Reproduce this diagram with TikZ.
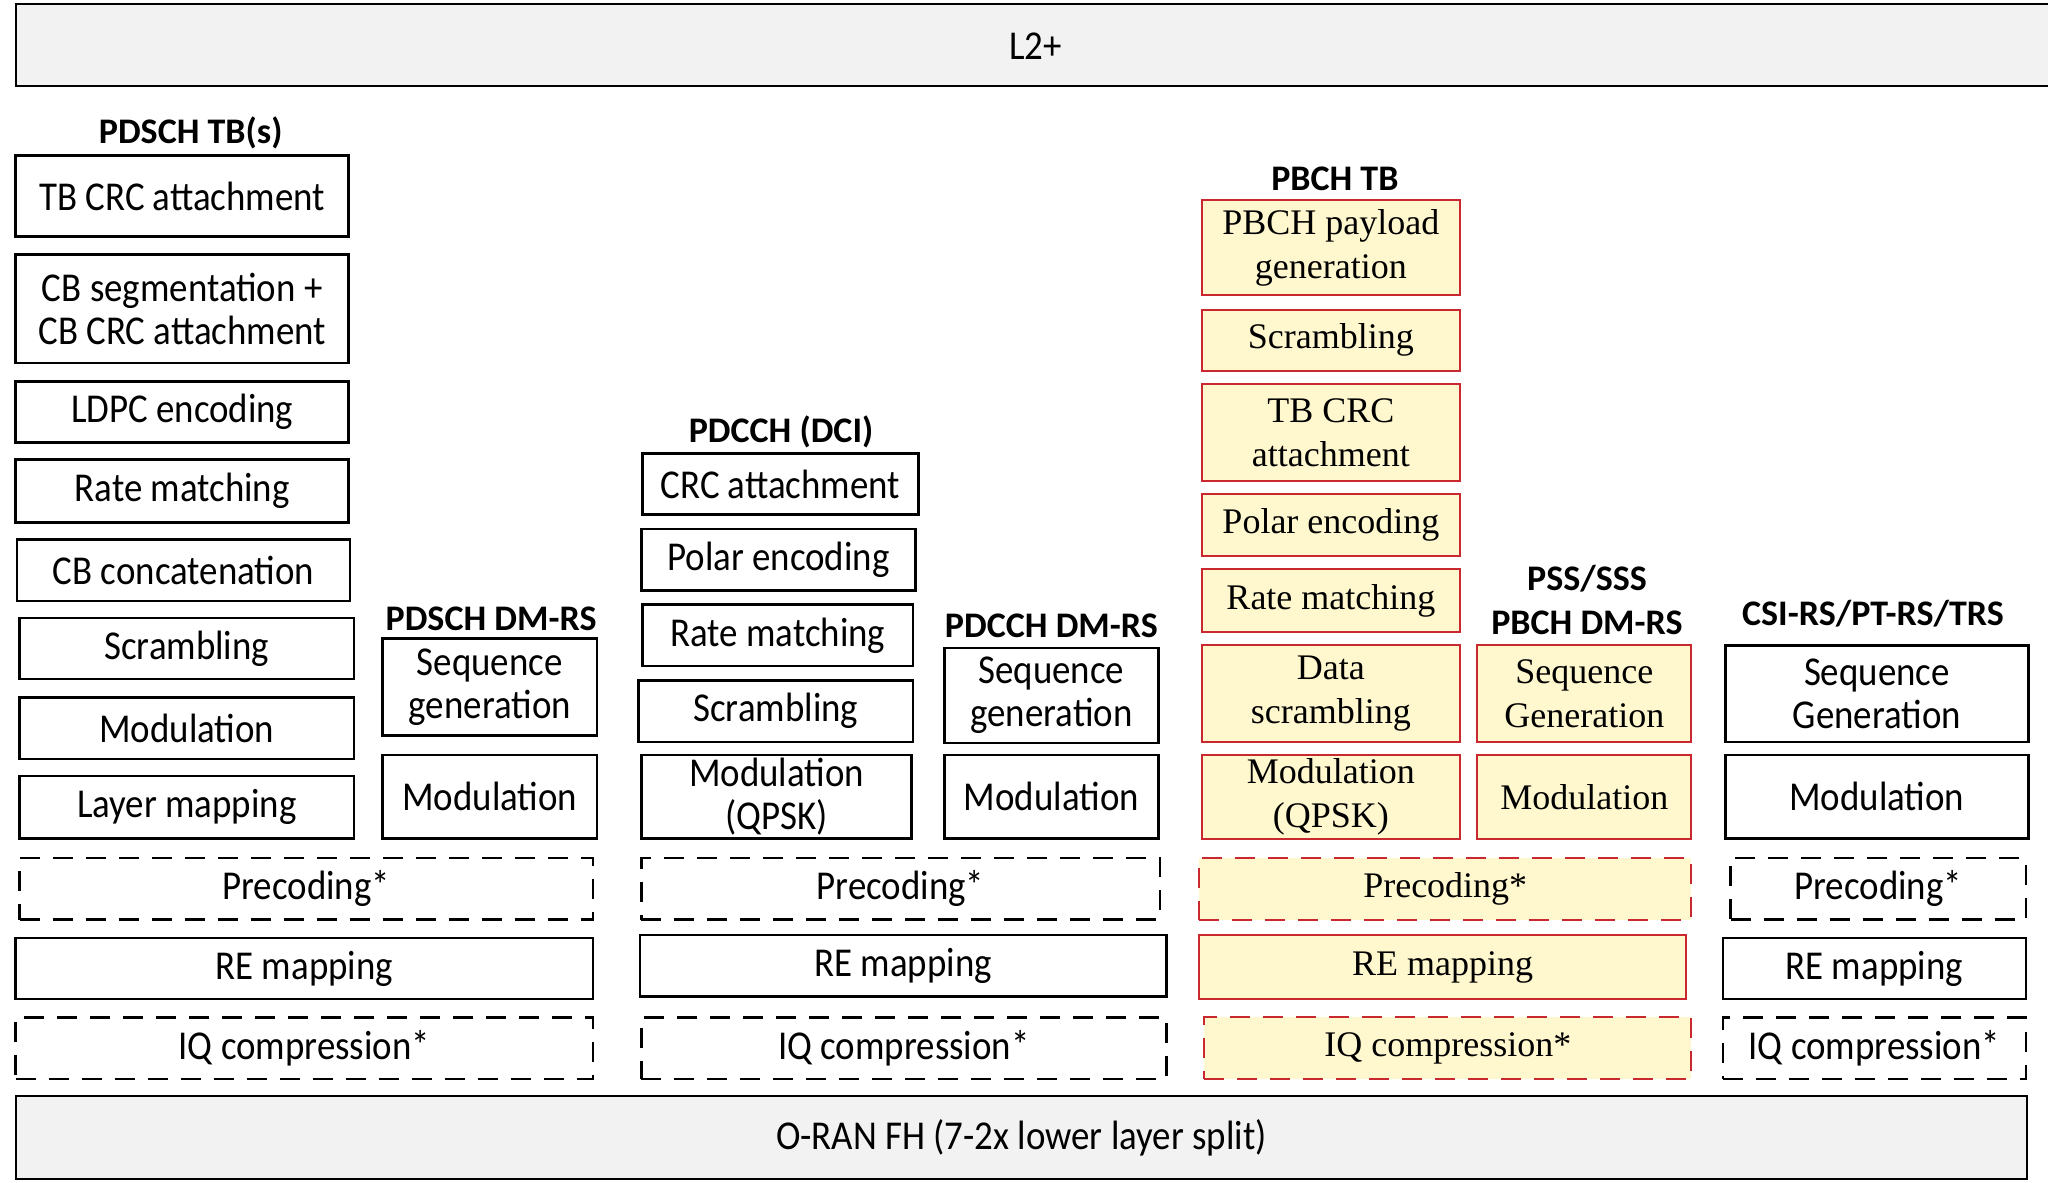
\documentclass[tikz,border=0pt]{standalone}
\usepackage{fontspec}
\setmainfont{Carlito}
\newfontfamily\boxfont{Carlito}[FakeStretch=0.9]
\newfontfamily\pbchfont{Liberation Serif}
\usepackage{tikz}
\usetikzlibrary{calc}
\definecolor{pbchred}{HTML}{C8282E}
\definecolor{pbchyellow}{HTML}{FFF8CE}
\definecolor{barfill}{HTML}{F2F2F2}
\newcommand{\boxtext}{\boxfont\fontsize{20.5}{21.5}\selectfont}
\newcommand{\seriftext}{\pbchfont\fontsize{18}{22}\selectfont}
\newcommand{\titletext}{\bfseries\fontsize{18}{22}\selectfont}
\tikzset{
	blk/.style={draw, line width=1.3pt, fill=white, font=\boxtext},
	dblk/.style={blk, dash pattern=on 10pt off 6.5pt},
	ylw/.style={draw=pbchred, line width=1pt, fill=pbchyellow, font=\seriftext},
	dylw/.style={ylw, dash pattern=on 10pt off 6.5pt},
	bar/.style={draw, line width=1pt, fill=barfill, font=\boxtext},
	title/.style={font=\titletext, align=center, inner sep=0pt}
}
% box from its corners: style, name, x1, y1, x2, y2, text
\newcommand{\stagebox}[7]{
	\node[#1, minimum width={(#5-#3)*0.65306pt}, minimum height={(#6-#4)*0.65306pt}, inner sep=0pt, align=center] (#2) at ({(#3+#5)/2},{(#4+#6)/2}) {#7};
}
\begin{document}
\begin{tikzpicture}[x=0.65306pt, y=-0.65306pt]
	\useasboundingbox (0,0) rectangle (1568,905);
%
	\stagebox{bar}{l2}{12}{3}{1575}{66}{}
	\node[font=\boxtext] (l2-text) at (793,35) {L2+};
	\stagebox{bar}{fh}{12}{839}{1552}{903}{O-RAN FH (7-2x lower layer split)}
%
	\node[title] (pdsch-title) at (146,102) {PDSCH TB(s)};
	\stagebox{blk}{pdsch-tbcrc}{12}{119}{267}{181}{TB CRC attachment}
	\stagebox{blk}{pdsch-cbseg}{12}{195}{267}{278}{CB segmentation +\\CB CRC attachment}
	\stagebox{blk}{pdsch-ldpc}{12}{292}{267}{339}{LDPC encoding}
	\stagebox{blk}{pdsch-rm}{12}{352}{267}{400}{Rate matching}
	\stagebox{blk}{pdsch-cbcat}{13}{413}{268}{460}{CB concatenation}
	\stagebox{blk}{pdsch-scr}{15}{473}{271}{520}{Scrambling}
	\stagebox{blk}{pdsch-mod}{15}{534}{271}{581}{Modulation}
	\stagebox{blk}{pdsch-layer}{15}{594}{271}{642}{Layer mapping}
%
	\node[title] (pdschrs-title) at (376,474) {PDSCH DM-RS};
	\stagebox{blk}{pdschrs-seq}{293}{489}{457}{563}{Sequence\\generation}
	\stagebox{blk}{pdschrs-mod}{293}{578}{457}{642}{Modulation}
%
	\stagebox{dblk}{pdsch-prec}{15}{657}{454}{704}{Precoding*}
	\stagebox{blk}{pdsch-re}{12}{718}{454}{765}{RE mapping}
	\stagebox{dblk}{pdsch-iq}{12}{779}{454}{826}{IQ compression*}
%
	\node[title] (pdcch-title) at (598,331) {PDCCH (DCI)};
	\stagebox{blk}{pdcch-crc}{492}{347}{703}{394}{CRC attachment}
	\stagebox{blk}{pdcch-polar}{491}{405}{701}{452}{Polar encoding}
	\stagebox{blk}{pdcch-rm}{492}{463}{699}{510}{Rate matching}
	\stagebox{blk}{pdcch-scr}{489}{521}{699}{568}{Scrambling}
	\stagebox{blk}{pdcch-mod}{491}{578}{698}{642}{Modulation\\(QPSK)}
%
	\node[title] (pdcchrs-title) at (805,479) {PDCCH DM-RS};
	\stagebox{blk}{pdcchrs-seq}{723}{496}{887}{569}{Sequence\\generation}
	\stagebox{blk}{pdcchrs-mod}{723}{578}{887}{642}{Modulation}
%
	\stagebox{dblk}{pdcch-prec}{491}{657}{888}{704}{Precoding*}
	\stagebox{blk}{pdcch-re}{490}{716}{893}{763}{RE mapping}
	\stagebox{dblk}{pdcch-iq}{491}{779}{893}{826}{IQ compression*}
%
	\node[title] (pbch-title) at (1022,137) {PBCH TB};
	\stagebox{ylw}{pbch-payload}{920}{153}{1118}{226}{PBCH payload\\generation}
	\stagebox{ylw}{pbch-scr}{920}{237}{1118}{284}{Scrambling}
	\stagebox{ylw}{pbch-tbcrc}{920}{294}{1118}{368}{TB CRC\\attachment}
	\stagebox{ylw}{pbch-polar}{920}{378}{1118}{426}{Polar encoding}
	\stagebox{ylw}{pbch-rm}{920}{436}{1118}{484}{Rate matching}
	\stagebox{ylw}{pbch-datascr}{920}{494}{1118}{568}{Data\\scrambling}
	\stagebox{ylw}{pbch-mod}{920}{578}{1118}{642}{Modulation\\(QPSK)}
%
	\node[title] (sync-title) at (1215,459) {PSS/SSS\\PBCH DM-RS};
	\stagebox{ylw}{sync-seq}{1131}{494}{1295}{568}{Sequence\\Generation}
	\stagebox{ylw}{sync-mod}{1131}{578}{1295}{642}{Modulation}
%
	\stagebox{dylw}{pbch-prec}{918}{657}{1295}{704}{Precoding*}
	\stagebox{ylw}{pbch-re}{918}{716}{1291}{765}{RE mapping}
	\stagebox{dylw}{pbch-iq}{922}{779}{1295}{826}{IQ compression*}
%
	\node[title] (csirs-title) at (1434,470) {CSI-RS/PT-RS/TRS};
	\stagebox{blk}{csirs-seq}{1321}{494}{1553}{568}{Sequence\\Generation}
	\stagebox{blk}{csirs-mod}{1321}{578}{1553}{642}{Modulation}
	\stagebox{dblk}{csirs-prec}{1325}{657}{1551}{704}{Precoding*}
	\stagebox{blk}{csirs-re}{1319}{718}{1551}{765}{RE mapping}
	\stagebox{dblk}{csirs-iq}{1319}{779}{1551}{826}{IQ compression*}
\end{tikzpicture}
\end{document}
